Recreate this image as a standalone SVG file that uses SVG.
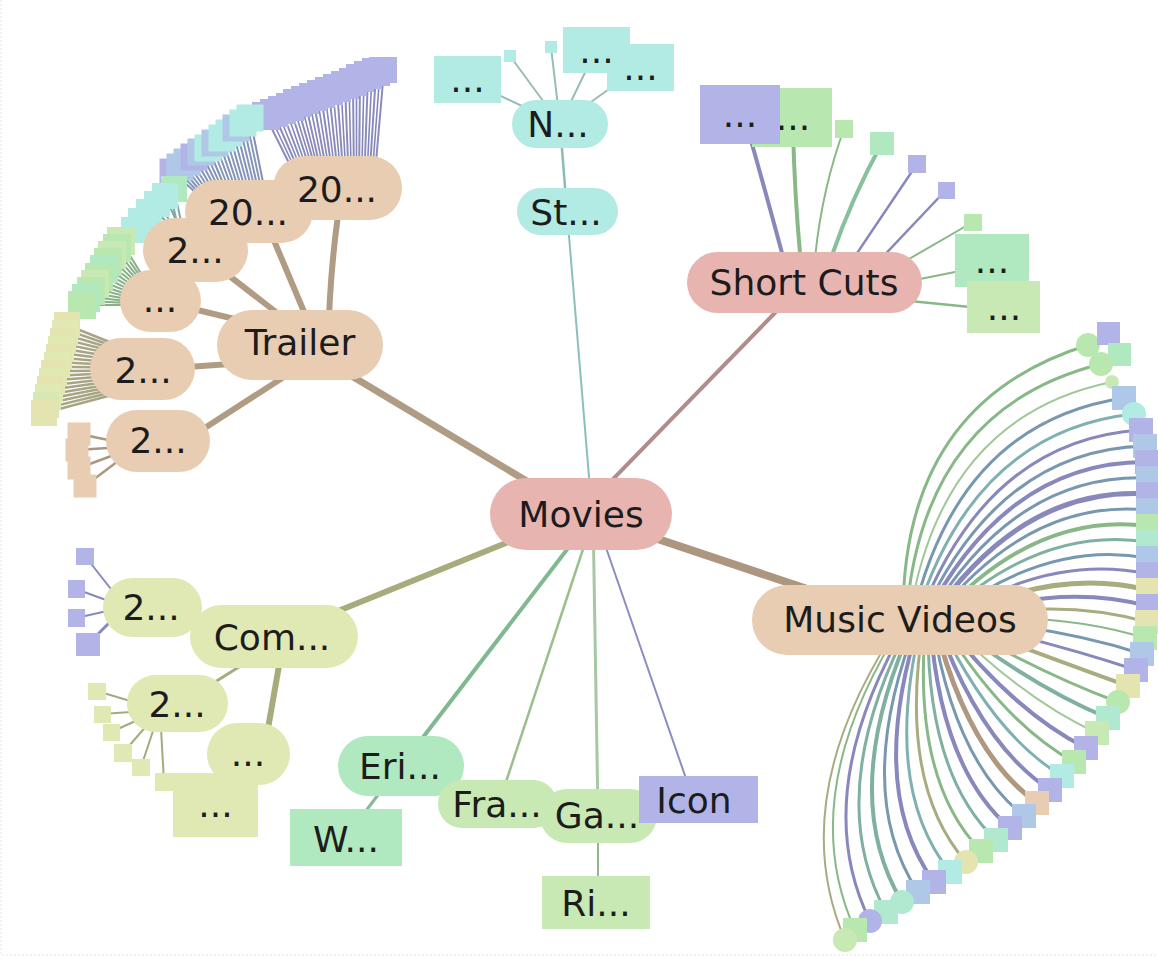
<svg xmlns="http://www.w3.org/2000/svg" width="1158" height="959" viewBox="0 0 1158 959">
<style>
.lbl{font-family:"DejaVu Sans","Liberation Sans",sans-serif;font-size:36px;fill:#1c1c1c;text-anchor:middle}
.ln{fill:none}
.pink{fill:#e8b4b0}.peach{fill:#e8cdb2}.lime{fill:#e0e8b4}.aqua{fill:#b2eae4}.mint{fill:#b0e8c0}
.leaf{fill:#c8e8b4}.lilac{fill:#b2b4e8}.sky{fill:#b0c8e8}.grn{fill:#b8e8b0}.sand{fill:#e4e4b0}.sea{fill:#b0e8d0}
.sG{stroke:#88b888}.sL{stroke:#a0c898}.sT{stroke:#7fb0a0}.sB{stroke:#7898b0}.sP{stroke:#8888bc}
.sO{stroke:#a8ac80}.sR{stroke:#b09880}.sC{stroke:#80b0b0}
</style>
<rect width="1158" height="959" fill="#fff"/>
<path d="M1 0V955H1158" fill="none" stroke="#e6e6e6" stroke-dasharray="2 2"/>

<g id="connectors" class="ln">
  <!-- root edges -->
  <path d="M580 513L300 345" stroke="#b09c84" stroke-width="7"/>
  <path d="M580 513L900 620" stroke="#ac9680" stroke-width="8"/>
  <path d="M580 513L804 283" stroke="#b08c8c" stroke-width="4"/>
  <path d="M580 513L274 637" stroke="#a8ac7c" stroke-width="6"/>
  <path d="M592 513L567 212" stroke="#8cc0b8" stroke-width="2"/>
  <path d="M560 124L567 212" stroke="#8cbcb4" stroke-width="2.5"/>
  <path d="M595 513L401 766" stroke="#80b890" stroke-width="4"/>
  <path d="M595 513L500 800" stroke="#98c08c" stroke-width="2.5"/>
  <path d="M593 513L598 815" stroke="#a8c8a4" stroke-width="3"/>
  <path d="M594 513L690 790" stroke="#8c8cc4" stroke-width="2"/>
  <path d="M400 766L346 837" stroke="#88b898" stroke-width="3"/>
  <path d="M598 815L598 900" stroke="#90b888" stroke-width="2"/>

  <!-- Trailer branch -->
  <g stroke="#b09c84" stroke-width="6">
    <path d="M328 345Q330 260 342 190"/>
    <path d="M318 345L262 212"/>
    <path d="M290 323L196 250"/>
    <path d="M260 325L160 301"/>
    <path d="M260 362L143 370"/>
    <path d="M290 373L180 444"/>
  </g>
  <path stroke="#8a8cbc" stroke-width="2" d="M300 185L266 117M305 185L274 114M310 185L282 111M315 185L290 108M320 185L297 104M324 185L305 101M329 185L313 98M334 185L321 95M339 185L329 92M344 185L337 89M349 185L345 86M354 185L353 83M359 185L360 79M364 185L368 76M369 185L376 73M374 185L384 70"/>
  <path stroke="#8486b6" stroke-width="1.6" d="M302.5 185L270 115.5M307.5 185L278 112.5M312.5 185L286 109.5M317.5 185L293.5 106M322 185L301 102.5M326.5 185L309 99.5M331.5 185L317 96.5M336.5 185L325 93.5M341.5 185L333 90.5M346.5 185L341 87.5M351.5 185L349 84.5M356.5 185L356.5 81M361.5 185L364 77.5M366.5 185L372 74.5M371.5 185L380 71.5"/>
  <path stroke="#8a8cbc" stroke-width="2" d="M195 192L173 172M201.4 192L180 167.1M207.7 192L187 162.2M214.1 192L194 157.3M220.5 192L201 152.4M226.8 192L208 147.5M233.2 192L215 142.5M239.5 192L222 137.6M245.9 192L229 132.7M252.3 192L236 127.8M258.6 192L243 122.9M265 192L250 118"/>
  <path stroke="#7f9cb4" stroke-width="2" d="M198.2 192L176.5 169.5M204.5 192L183.5 164.6M210.9 192L190.5 159.7M217.3 192L197.5 154.8M223.6 192L204.5 149.9M230 192L211.5 145M236.4 192L218.5 140.1M242.7 192L225.5 135.2M249.1 192L232.5 130.3M255.5 192L239.5 125.4M261.8 192L246.5 120.5"/>
  <path stroke="#80a8a8" stroke-width="2" d="M185 240L174 189M185 240L165 196M185 240L157 204M185 240L149 212M185 240L141 221M185 240L134 230M180 236L170 192M180 236L153 208M180 236L137 226"/>
  <path stroke="#88b088" stroke-width="2" d="M145 280L121 241M144 281.7L118.4 245.3M143 283.3L115.8 249.5M142 285L113.2 253.8M141 286.7L110.6 258.1M140 288.3L108 262.3M139 290L105.4 266.6M138 291.7L102.8 270.9M137 293.3L100.2 275.1M136 295L97.6 279.4M135 296.7L95 283.7M134 298.3L92.4 287.9M133 300L89.8 292.2M132 301.7L87.2 296.5M131 303.3L84.6 300.7M130 305L82 305"/>
  <path stroke="#a8a484" stroke-width="2.5" d="M112 343L67 325M112 345.7L65.8 329.6M112 348.5L64.6 334.3M112 351.2L63.4 338.9M112 353.9L62.2 343.5M112 356.7L61 348.2M112 359.4L59.7 352.8M112 362.2L58.5 357.4M112 364.9L57.3 362.1M112 367.6L56.1 366.7M112 370.4L54.9 371.3M112 373.1L53.7 376M112 375.8L52.5 380.6M112 378.6L51.3 385.2M112 381.3L50 389.8M112 384.1L48.8 394.5M112 386.8L47.6 399.1M112 389.5L46.4 403.7M112 392.3L45.2 408.4M112 395L44 413"/>
  <path stroke="#a89880" stroke-width="2.5" d="M138 446L79 434M138 446L77 450M138 446L79 468M138 446L85 486"/>

  <!-- Com branch -->
  <path d="M280 660L266 740" stroke="#a8ac7c" stroke-width="6"/>
  <path d="M250 660L180 704" stroke="#a8ac7c" stroke-width="3"/>
  <path stroke="#8888c0" stroke-width="2" d="M125 607L85 556M125 607L76 589M125 607L76 618"/>
  <path stroke="#8888c0" stroke-width="3" d="M125 607L88 644"/>
  <path stroke="#a8a880" stroke-width="2" d="M160 710L97 691M160 710L102 714M160 710L111 732M160 710L123 753M160 710L141 767M160 710L164 782"/>

  <!-- N branch -->
  <path stroke="#98bcb6" stroke-width="2" d="M560 124L467 80M560 124L510 56M560 124L551 47M560 124L596 50M560 124L640 67"/>

  <!-- Short Cuts branch -->
  <path d="M790 283Q768 200 748 130" class="sP" stroke-width="4"/>
  <path d="M803 283Q795 210 793 130" class="sG" stroke-width="4"/>
  <path d="M813 283Q818 200 844 129" class="sG" stroke-width="2"/>
  <path d="M823 283Q845 210 882 143" stroke="#88c09c" stroke-width="4"/>
  <path d="M837 283L917 164" class="sP" stroke-width="2.5"/>
  <path d="M858 283L946 190" class="sP" stroke-width="2.5"/>
  <path d="M890 270L973 222" class="sG" stroke-width="2"/>
  <path d="M900 283L990 265" class="sG" stroke-width="2"/>
  <path d="M900 300L1000 310" class="sG" stroke-width="2.5"/>

  <!-- Music Videos branch -->
  <path class="sG" stroke-width="3" d="M903 620Q901 403 1088 345"/>
  <path class="sG" stroke-width="3" d="M906 620Q921 409 1101 364"/>
  <path class="sL" stroke-width="2" d="M909 620Q940 417 1112 382"/>
  <path class="sB" stroke-width="3" d="M912 620Q957 423 1124 398"/>
  <path class="sC" stroke-width="3" d="M915 620Q973 431 1134 414"/>
  <path class="sP" stroke-width="3" d="M918 620Q986 440 1141 430"/>
  <path class="sB" stroke-width="3" d="M921 620Q997 450 1145 446"/>
  <path class="sP" stroke-width="4" d="M924 620Q1006 461 1147 462"/>
  <path class="sB" stroke-width="3" d="M927 620Q1014 473 1148 478"/>
  <path class="sP" stroke-width="5" d="M930 620Q1021 486 1148 494"/>
  <path class="sB" stroke-width="3" d="M933 620Q1028 498 1148 510"/>
  <path class="sG" stroke-width="4" d="M936 620Q1034 511 1148 526"/>
  <path class="sT" stroke-width="3" d="M939 620Q1039 525 1148 542"/>
  <path class="sB" stroke-width="3" d="M942 620Q1045 539 1148 558"/>
  <path class="sP" stroke-width="3" d="M945 620Q1050 553 1148 574"/>
  <path class="sO" stroke-width="5" d="M948 620Q1054 567 1148 590"/>
  <path class="sP" stroke-width="4" d="M951 620Q1057 582 1148 606"/>
  <path class="sO" stroke-width="3" d="M954 620Q1059 597 1147 622"/>
  <path class="sG" stroke-width="2" d="M958 620Q1060 612 1145 638"/>
  <path class="sB" stroke-width="3" d="M955 620Q1059 627 1142 654"/>
  <path class="sP" stroke-width="3" d="M952 620Q1055 643 1136 670"/>
  <path class="sO" stroke-width="4" d="M950 620Q1050 658 1128 686"/>
  <path class="sG" stroke-width="3" d="M948 620Q1042 674 1118 702"/>
  <path class="sT" stroke-width="4" d="M946 620Q1033 687 1108 718"/>
  <path class="sL" stroke-width="2" d="M944 620Q1024 700 1097 733"/>
  <path class="sP" stroke-width="4" d="M942 620Q1014 712 1086 748"/>
  <path class="sG" stroke-width="3" d="M940 620Q1003 723 1074 762"/>
  <path class="sC" stroke-width="3" d="M938 620Q992 734 1062 776"/>
  <path class="sP" stroke-width="4" d="M936 620Q980 744 1050 790"/>
  <path class="sR" stroke-width="5" d="M934 620Q967 753 1037 803"/>
  <path class="sB" stroke-width="3" d="M932 620Q954 761 1024 816"/>
  <path class="sP" stroke-width="4" d="M930 620Q940 768 1010 828"/>
  <path class="sT" stroke-width="3" d="M928 620Q926 774 996 840"/>
  <path class="sG" stroke-width="3" d="M926 620Q911 779 981 851"/>
  <path class="sO" stroke-width="3" d="M924 620Q897 783 966 862"/>
  <path class="sC" stroke-width="3" d="M922 620Q881 786 950 872"/>
  <path class="sP" stroke-width="4" d="M920 620Q866 788 934 882"/>
  <path class="sB" stroke-width="3" d="M918 620Q851 790 918 892"/>
  <path class="sT" stroke-width="4" d="M915 620Q836 792 902 902"/>
  <path class="sT" stroke-width="3" d="M912 620Q821 793 886 912"/>
  <path class="sP" stroke-width="3" d="M909 620Q807 793 870 921"/>
  <path class="sG" stroke-width="2" d="M905 620Q793 793 855 930"/>
  <path class="sO" stroke-width="2" d="M902 620Q783 796 845 940"/>
</g>

<!-- leaves of the Trailer sub-branches -->
<g id="trailer-leaves">
  <g class="lilac">
    <rect x="252" y="102" width="28" height="28"/><rect x="260" y="99" width="28" height="28"/><rect x="268" y="96" width="28" height="28"/><rect x="276" y="93" width="28" height="28"/>
    <rect x="283" y="89" width="28" height="28"/><rect x="291" y="86" width="28" height="28"/><rect x="299" y="83" width="28" height="28"/><rect x="307" y="80" width="28" height="28"/>
    <rect x="315" y="77" width="28" height="28"/><rect x="323" y="74" width="28" height="28"/><rect x="331" y="71" width="28" height="28"/><rect x="339" y="68" width="28" height="28"/>
    <rect x="346" y="64" width="28" height="28"/><rect x="354" y="61" width="28" height="28"/><rect x="362" y="58" width="28" height="28"/><rect x="369" y="57" width="28" height="26"/>
  </g>
  <rect class="lilac" x="159.5" y="158.5" width="27" height="27"/>
  <rect class="sky" x="166.5" y="153.5" width="27" height="27"/>
  <rect class="sky" x="173.5" y="148.5" width="27" height="27"/>
  <rect class="lilac" x="180.5" y="143.5" width="27" height="27"/>
  <rect class="sky" x="187.5" y="138.5" width="27" height="27"/>
  <rect class="aqua" x="194.5" y="134.5" width="27" height="27"/>
  <rect class="sky" x="201.5" y="129.5" width="27" height="27"/>
  <rect class="aqua" x="208.5" y="124.5" width="27" height="27"/>
  <rect class="aqua" x="215.5" y="119.5" width="27" height="27"/>
  <rect class="sky" x="222.5" y="114.5" width="27" height="27"/>
  <rect class="aqua" x="229.5" y="109.5" width="27" height="27"/>
  <rect class="aqua" x="236.5" y="104.5" width="27" height="27"/>

  <rect class="mint" x="161" y="176" width="26" height="26"/>
  <rect class="aqua" x="152" y="183" width="26" height="26"/>
  <rect class="aqua" x="144" y="191" width="26" height="26"/>
  <rect class="aqua" x="136" y="199" width="26" height="26"/>
  <rect class="aqua" x="128" y="208" width="26" height="26"/>
  <rect class="aqua" x="121" y="217" width="26" height="26"/>

  <rect class="leaf" x="107" y="227" width="28" height="28"/>
  <rect class="grn" x="103" y="234" width="28" height="28"/>
  <rect class="leaf" x="98" y="241" width="28" height="28"/>
  <rect class="grn" x="94" y="248" width="28" height="28"/>
  <rect class="mint" x="90" y="255" width="28" height="28"/>
  <rect class="grn" x="85" y="263" width="28" height="28"/>
  <rect class="leaf" x="81" y="270" width="28" height="28"/>
  <rect class="grn" x="77" y="277" width="28" height="28"/>
  <rect class="mint" x="72" y="284" width="28" height="28"/>
  <rect class="grn" x="68" y="291" width="28" height="28"/>

  <rect class="sand" x="54" y="312" width="26" height="26"/>
  <rect class="lime" x="52" y="320" width="26" height="26"/>
  <rect class="sand" x="50" y="328" width="26" height="26"/>
  <rect class="lime" x="48" y="336" width="26" height="26"/>
  <rect class="sand" x="46" y="344" width="26" height="26"/>
  <rect class="lime" x="44" y="352" width="26" height="26"/>
  <rect class="sand" x="41" y="360" width="26" height="26"/>
  <rect class="lime" x="39" y="368" width="26" height="26"/>
  <rect class="sand" x="37" y="376" width="26" height="26"/>
  <rect class="lime" x="35" y="384" width="26" height="26"/>
  <rect fill="#d8e8b4" x="33" y="392" width="26" height="26"/>
  <rect class="sand" x="31" y="400" width="26" height="26"/>

  <g class="peach">
    <rect x="67.5" y="422.5" width="23" height="23"/><rect x="65.5" y="438.5" width="23" height="23"/>
    <rect x="67.5" y="456.5" width="23" height="23"/><rect x="73.5" y="474.5" width="23" height="23"/>
  </g>
</g>

<!-- leaves of the Com sub-branches -->
<g id="com-leaves">
  <g class="lilac">
    <rect x="76" y="548" width="18" height="17"/><rect x="68" y="580" width="17" height="18"/>
    <rect x="68" y="609" width="17" height="18"/><rect x="76" y="633" width="24" height="23"/>
  </g>
  <g class="lime">
    <rect x="88" y="683" width="18" height="17"/><rect x="94" y="706" width="17" height="17"/><rect x="103" y="724" width="17" height="17"/>
    <rect x="114" y="744" width="18" height="18"/><rect x="132" y="759" width="18" height="17"/><rect x="155" y="773" width="18" height="18"/>
  </g>
</g>

<!-- leaves of Music Videos -->
<g id="music-leaves">
  <circle class="grn" cx="1088" cy="345" r="12"/>
  <rect class="lilac" x="1097" y="322" width="23" height="23"/>
  <rect class="mint" x="1108" y="343" width="23" height="23"/>
  <circle class="grn" cx="1101" cy="364" r="12"/>
  <circle class="leaf" cx="1112" cy="382" r="7"/>
  <rect class="sky" x="1112" y="386" width="24" height="24"/>
  <circle class="aqua" cx="1134" cy="414" r="12"/>
  <rect class="lilac" x="1129" y="418" width="24" height="24"/>
  <rect class="sky" x="1133" y="434" width="24" height="24"/>
  <rect class="lilac" x="1135" y="450" width="24" height="24"/>
  <rect class="sky" x="1136" y="466" width="24" height="24"/>
  <rect class="lilac" x="1136" y="482" width="24" height="24"/>
  <rect class="sky" x="1136" y="498" width="24" height="24"/>
  <rect class="grn" x="1136" y="514" width="24" height="24"/>
  <rect class="sea" x="1136" y="530" width="24" height="24"/>
  <rect class="sky" x="1136" y="546" width="24" height="24"/>
  <rect class="lilac" x="1136" y="562" width="24" height="24"/>
  <rect class="sand" x="1136" y="578" width="24" height="24"/>
  <rect class="lilac" x="1136" y="594" width="24" height="24"/>
  <rect class="sand" x="1135" y="610" width="24" height="24"/>
  <rect class="grn" x="1133" y="626" width="24" height="24"/>
  <rect class="sky" x="1130" y="642" width="24" height="24"/>
  <rect class="lilac" x="1124" y="658" width="24" height="24"/>
  <rect class="sand" x="1116" y="674" width="24" height="24"/>
  <circle class="grn" cx="1118" cy="702" r="12"/>
  <rect class="sea" x="1096" y="706" width="24" height="24"/>
  <rect class="leaf" x="1085" y="721" width="24" height="24"/>
  <rect class="lilac" x="1074" y="736" width="24" height="24"/>
  <rect class="grn" x="1062" y="750" width="24" height="24"/>
  <rect class="aqua" x="1050" y="764" width="24" height="24"/>
  <rect class="lilac" x="1038" y="778" width="24" height="24"/>
  <rect class="peach" x="1025" y="791" width="24" height="24"/>
  <rect class="sky" x="1012" y="804" width="24" height="24"/>
  <rect class="lilac" x="998" y="816" width="24" height="24"/>
  <rect class="sea" x="984" y="828" width="24" height="24"/>
  <rect class="grn" x="969" y="839" width="24" height="24"/>
  <circle class="sand" cx="966" cy="862" r="12"/>
  <rect class="aqua" x="938" y="860" width="24" height="24"/>
  <rect class="lilac" x="922" y="870" width="24" height="24"/>
  <rect class="sky" x="906" y="880" width="24" height="24"/>
  <circle class="sea" cx="902" cy="902" r="12"/>
  <rect class="sea" x="874" y="900" width="24" height="24"/>
  <circle class="lilac" cx="870" cy="921" r="12"/>
  <rect class="grn" x="843" y="918" width="24" height="24"/>
  <circle class="leaf" cx="845" cy="940" r="12"/>
</g>

<!-- leaves of Short Cuts -->
<g id="shortcuts-leaves">
  <g id="sc-leaf-a"><rect class="grn" x="752" y="88" width="80" height="59"/><text class="lbl" x="793" y="130">...</text></g>
  <g id="sc-leaf-b"><rect class="lilac" x="700" y="85" width="80" height="59"/><text class="lbl" x="740" y="127">...</text></g>
  <rect class="grn" x="835" y="120" width="18" height="18"/>
  <rect class="mint" x="870" y="132" width="24" height="23"/>
  <rect class="lilac" x="908" y="155" width="18" height="18"/>
  <rect class="lilac" x="938" y="182" width="17" height="17"/>
  <rect class="grn" x="964" y="214" width="18" height="17"/>
  <g id="sc-leaf-c"><rect class="mint" x="955" y="234" width="74" height="53"/><text class="lbl" x="992" y="273">...</text></g>
  <g id="sc-leaf-d"><rect class="leaf" x="967" y="281" width="73" height="52"/><text class="lbl" x="1004" y="320">...</text></g>
</g>

<!-- leaves of N... -->
<g id="n-leaves">
  <g id="n-leaf-a"><rect class="aqua" x="434" y="56" width="67" height="47"/><text class="lbl" x="467.5" y="92">...</text></g>
  <rect class="aqua" x="504" y="50" width="12" height="12"/>
  <rect class="aqua" x="545" y="41" width="12" height="12"/>
  <g id="n-leaf-c"><rect class="aqua" x="607" y="44" width="67" height="47"/><text class="lbl" x="640.5" y="80">...</text></g>
  <g id="n-leaf-b"><rect class="aqua" x="563" y="27" width="67" height="46"/><text class="lbl" x="596.5" y="63">...</text></g>
</g>

<!-- labelled nodes -->
<g id="node-trailer-6"><rect class="peach" x="106" y="410" width="104" height="62" rx="31"/><text class="lbl" x="158" y="453">2...</text></g>
<g id="node-trailer-5"><rect class="peach" x="90" y="338" width="105" height="62" rx="31"/><text class="lbl" x="143" y="383">2...</text></g>
<g id="node-trailer-4"><rect class="peach" x="120" y="270" width="81" height="62" rx="31"/><text class="lbl" x="160" y="312">...</text></g>
<g id="node-trailer-3"><rect class="peach" x="143" y="218" width="105" height="64" rx="32"/><text class="lbl" x="195" y="263">2...</text></g>
<g id="node-trailer-2"><rect class="peach" x="185" y="180" width="128" height="63" rx="31.5"/><text class="lbl" x="248" y="225">20...</text></g>
<g id="node-trailer-1"><rect class="peach" x="273" y="156" width="129" height="64" rx="32"/><text class="lbl" x="337" y="202">20...</text></g>
<g id="node-trailer"><rect class="peach" x="217" y="310" width="166" height="70" rx="35"/><text class="lbl" x="300" y="355">Trailer</text></g>

<g id="node-n"><rect class="aqua" x="512" y="100" width="96" height="48" rx="24"/><text class="lbl" x="558" y="137">N...</text></g>
<g id="node-st"><rect class="aqua" x="517" y="188" width="101" height="47" rx="23.5"/><text class="lbl" x="566" y="225">St...</text></g>

<g id="node-shortcuts"><rect class="pink" x="687" y="252" width="235" height="61" rx="30.5"/><text class="lbl" x="804" y="295">Short Cuts</text></g>

<g id="node-movies"><rect class="pink" x="490" y="478" width="182" height="72" rx="36"/><text class="lbl" x="581" y="527">Movies</text></g>

<g id="node-music"><rect class="peach" x="752" y="585" width="296" height="70" rx="35"/><text class="lbl" x="900" y="632">Music Videos</text></g>

<g id="node-com-1"><rect class="lime" x="103" y="578" width="99" height="59" rx="29.5"/><text class="lbl" x="151" y="620">2...</text></g>
<g id="node-com-2"><rect class="lime" x="127" y="675" width="101" height="57" rx="28.5"/><text class="lbl" x="177" y="717">2...</text></g>
<g id="node-com-4"><rect class="lime" x="173" y="773" width="85" height="64"/><text class="lbl" x="215.5" y="817">...</text></g>
<g id="node-com-3"><rect class="lime" x="207" y="723" width="83" height="62" rx="31"/><text class="lbl" x="248" y="766">...</text></g>
<g id="node-com"><rect class="lime" x="190" y="605" width="168" height="63" rx="31.5"/><text class="lbl" x="272" y="650">Com...</text></g>

<g id="node-eri"><rect class="mint" x="338" y="736" width="126" height="60" rx="30"/><text class="lbl" x="400" y="779">Eri...</text></g>
<g id="node-w"><rect class="mint" x="290" y="809" width="112" height="57"/><text class="lbl" x="346" y="852">W...</text></g>
<g id="node-fra"><rect class="leaf" x="438" y="780" width="119" height="48" rx="24"/><text class="lbl" x="497" y="817">Fra...</text></g>
<g id="node-ga"><rect class="leaf" x="540" y="789" width="117" height="54" rx="27"/><text class="lbl" x="597" y="828">Ga...</text></g>
<g id="node-icon"><rect class="lilac" x="639" y="776" width="119" height="47"/><text class="lbl" x="694" y="813">Icon</text></g>
<g id="node-ri"><rect class="leaf" x="542" y="876" width="108" height="53"/><text class="lbl" x="596" y="916">Ri...</text></g>
</svg>
